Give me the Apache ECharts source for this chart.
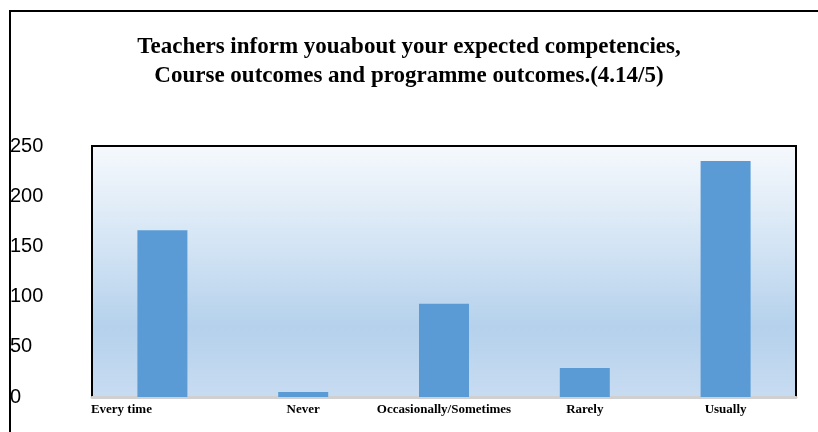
<!DOCTYPE html>
<html>
<head>
<meta charset="utf-8">
<script src="https://cdn.jsdelivr.net/npm/echarts@6/dist/echarts.min.js"></script>
<style>
  html, body { margin: 0; padding: 0; background: #fff; }
  #main { width: 818px; height: 432px; }
</style>
</head>
<body>
<div id="main"></div>
<script>
// data
var categories = ['Every time', 'Never', 'Occasionally/Sometimes', 'Rarely', 'Usually'];
var counts = [166, 5, 93, 29, 235];
var yTicks = [0, 50, 100, 150, 200, 250];

var myChart = echarts.init(document.getElementById('main'));

// first label sits left of its bar in the original
var catData = categories.map(function (c, i) {
    if (i === 0) return { value: c, textStyle: { padding: [0, 82, 0, 0] } };
    return c;
});

var option = {
    backgroundColor: '#fff',
    animation: false,
    title: {
        text: 'Teachers inform youabout your expected competencies,\nCourse outcomes and programme outcomes.(4.14/5)',
        left: 'center',
        top: 28,
        textStyle: {
            fontFamily: 'Liberation Serif',
            fontWeight: 'bold',
            fontSize: 23,
            lineHeight: 29,
            color: '#000'
        }
    },
    grid: {
        left: 92,
        right: 22,
        top: 146,
        bottom: 35,
        show: true,
        borderColor: '#000',
        borderWidth: 2,
        backgroundColor: {
            type: 'linear', x: 0, y: 0, x2: 0, y2: 1,
            colorStops: [
                { offset: 0, color: '#f6f9fd' },
                { offset: 0.4, color: '#d3e4f4' },
                { offset: 0.72, color: '#b5d1ec' },
                { offset: 1, color: '#c8dcf1' }
            ]
        }
    },
    xAxis: {
        type: 'category',
        data: catData,
        axisLine: { show: true, lineStyle: { color: '#d0d0d0', width: 3 } },
        axisTick: { show: false },
        axisLabel: {
            interval: 0,
            margin: 6,
            fontFamily: 'Liberation Serif',
            fontWeight: 'bold',
            fontSize: 13,
            color: '#000'
        }
    },
    yAxis: {
        type: 'value',
        min: yTicks[0],
        max: yTicks[yTicks.length - 1],
        interval: 50,
        axisLine: { show: false },
        axisTick: { show: false },
        splitLine: { show: false },
        axisLabel: {
            align: 'left',
            margin: 82,
            fontFamily: 'Liberation Sans',
            fontSize: 20,
            color: '#000'
        }
    },
    graphic: [
        { type: 'line', shape: { x1: 10, y1: 11, x2: 818, y2: 11 }, style: { stroke: '#000', lineWidth: 2 } },
        { type: 'line', shape: { x1: 10, y1: 10, x2: 10, y2: 432 }, style: { stroke: '#000', lineWidth: 2 } }
    ],
    series: [
        {
            type: 'bar',
            data: counts,
            barWidth: 50,
            itemStyle: { color: '#5b9bd5' }
        }
    ]
};

myChart.setOption(option);
</script>
</body>
</html>
